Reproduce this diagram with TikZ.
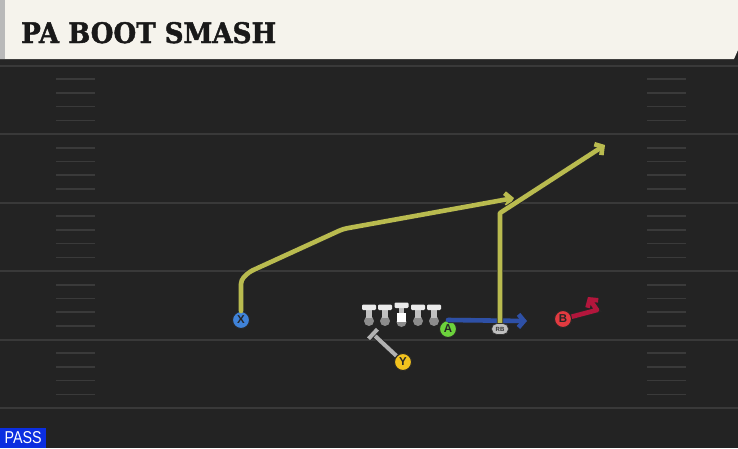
\documentclass[tikz,border=0pt]{standalone}
\usepackage{fontspec}
\usepackage{graphicx}
\setmainfont{DejaVu Serif}
\setsansfont{Liberation Sans}
\newfontfamily\titlefont[FakeBold=1.6]{DejaVu Serif Bold}
\usetikzlibrary{calc,positioning,arrows.meta,shapes.misc}

\definecolor{fieldbg}{HTML}{232323}
\definecolor{fieldline}{HTML}{393939}
\definecolor{hashmark}{HTML}{3A3A3A}
\definecolor{headbg}{HTML}{F5F3EC}
\definecolor{routeyel}{HTML}{B9BB4F}
\definecolor{routeblu}{HTML}{2E50A6}
\definecolor{routered}{HTML}{B3163C}
\definecolor{xblue}{HTML}{3F82D8}
\definecolor{agreen}{HTML}{6CD23C}
\definecolor{bred}{HTML}{E23A40}
\definecolor{yyel}{HTML}{F2C21E}
\definecolor{passblu}{HTML}{0B2EE0}

\tikzset{
    player/.style={circle, draw=black!85, line width=1pt, minimum size=17pt, inner sep=0pt,
        font=\sffamily\bfseries\fontsize{11.5}{11.5}\selectfont, text=black!85},
    route/.style={line width=4.6pt, line join=round, line cap=round,
        preaction={draw=black!85, line width=6.2pt},
        -{Straight Barb[length=5.5pt,width=13pt,line width=4.6pt]}},
    blockline/.style={line width=4pt, draw=black!30, preaction={draw=black!85, line width=5.6pt}},
}

\begin{document}
\begin{tikzpicture}[x=1pt, y=-1pt]
    \useasboundingbox (0,0) rectangle (738,448);
    %% Field
    \fill[fieldbg] (0,0) rectangle (738,448);
    \fill[black!85] (0,58) rectangle (738,65);
    \foreach \yl in {65.5,134,202.5,271,339.5,408}
        \draw[fieldline, line width=2pt] (0,\yl) -- (738,\yl);
    \foreach \yl in {65.5,134,202.5,271,339.5}
        \foreach \k in {1,...,4} {
            \draw[hashmark, line width=1.6pt] (56,\yl+13.7*\k) -- (95,\yl+13.7*\k);
            \draw[hashmark, line width=1.6pt] (647,\yl+13.7*\k) -- (686,\yl+13.7*\k);
        }

    %% Header
    \fill[headbg] (0,0) -- (738,0) -- (738,50) -- (734,59) -- (0,59) -- cycle;
    \fill[gray!55] (0,0) rectangle (5,59);
    \node[anchor=base west, inner sep=0pt, text=black!90] (title) at (21,43)
        {\resizebox{255pt}{21pt}{\titlefont PA BOOT SMASH}};

    %% Line
    \foreach \xl in {369,385,418,434} {
        \fill[black!45] (\xl,321) circle (5);
        \fill[black!25] (\xl-2.6,309) rectangle (\xl+2.6,318);
        \fill[black!8, rounded corners=1.2pt] (\xl-7,304.5) rectangle (\xl+7,310);
    }
    \fill[black!45] (401.5,322) circle (5);
    \fill[black!25] (398.9,307) rectangle (404.1,314);
    \fill[black!8, rounded corners=1.2pt] (394.5,302.5) rectangle (408.5,308);
    \fill[white] (397,313) rectangle (406,322);

    %% Players
    \node[player, fill=xblue] (X) at (241,320) {X};
    \node[player, fill=agreen] (A) at (448,329) {A};
    \node[player, fill=bred] (B) at (563,319) {B};
    \node[player, fill=yyel] (Y) at (403,362) {Y};

    %% Routes
    \coordinate (xTurn) at (241,280);
    \coordinate (xBend) at (343,229);
    \coordinate (xEnd) at (514,198);
    \coordinate (aEnd) at (527,321);
    \coordinate (rbTurn) at (500,213);
    \coordinate (rbEnd) at (605,145);
    \coordinate (bTurn) at (597,310);
    \coordinate (bEnd) at (588,297);
    \coordinate (yBlk) at (373,334);

    \draw[route, routeyel, rounded corners=4pt] (X.north) -- (xTurn) -- ++(8,-8) -- (xBend) -- (xEnd);
    \draw[route, routeblu] (A.north) -- (aEnd);
    \draw[route, routeyel] (500,324) -- (rbTurn) -- (rbEnd);
    \draw[route, routered] (B) -- (bTurn) -- (bEnd);
    \node[player, fill=bred] at (B) {B};

    \draw[blockline] (Y) -- (yBlk);
    \draw[blockline] ($(yBlk)!6.5pt!90:(Y)$) -- ($(yBlk)!6.5pt!-90:(Y)$);
    \node[player, fill=yyel] at (Y) {Y};

    \node[rounded rectangle, fill=black!25, draw=black!80, line width=0.7pt, minimum width=17pt,
        minimum height=11pt, inner sep=0pt, font=\sffamily\bfseries\fontsize{6}{6}\selectfont,
        text=black!80] (RB) at (500,329) {RB};

    %% Play type tag
    \node[anchor=south west, fill=passblu, minimum width=46pt, minimum height=20pt, inner sep=0pt,
        text=white] (tag) at (0,448) {\sffamily\resizebox{37pt}{12pt}{PASS}};
\end{tikzpicture}
\end{document}
